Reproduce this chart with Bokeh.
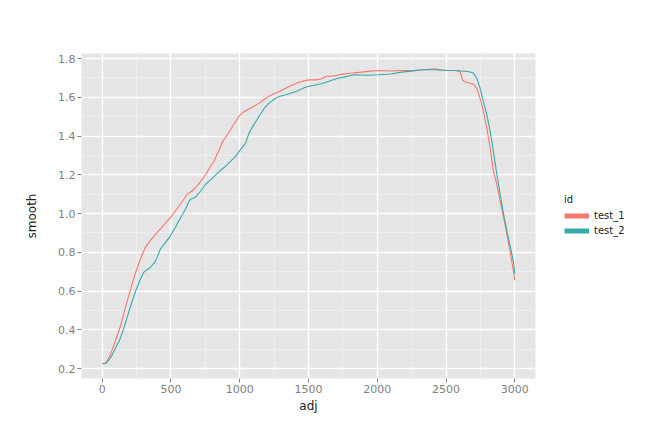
from bokeh.plotting import figure
from bokeh.models import (Range1d, SingleIntervalTicker, PrintfTickFormatter, Legend,
                          LegendItem, ColumnDataSource)
from bokeh.embed import file_html
from bokeh.resources import INLINE

adj_1 = [0, 25, 50, 71, 100, 131, 165, 204, 240, 265, 290, 314, 350, 399, 450, 496, 530, 557,
         590, 618, 650, 679, 710, 752, 780, 813, 845, 878, 898, 940, 970, 995, 1020, 1056,
         1100, 1141, 1180, 1214, 1250, 1287, 1320, 1360, 1400, 1433, 1470, 1506, 1555, 1591,
         1628, 1701, 1757, 1820, 1883, 1950, 2009, 2100, 2175, 2260, 2340, 2418, 2467, 2520,
         2564, 2601, 2610, 2618, 2635, 2650, 2675, 2698, 2723, 2747, 2771, 2796, 2820, 2844,
         2869, 2893, 2918, 2942, 2966, 2990, 3000]
smooth_1 = [0.225, 0.228, 0.255, 0.294, 0.350, 0.413, 0.505, 0.602, 0.690, 0.739, 0.785, 0.825,
            0.860, 0.902, 0.942, 0.979, 1.010, 1.039, 1.070, 1.099, 1.115, 1.133, 1.160, 1.200,
            1.235, 1.270, 1.320, 1.373, 1.394, 1.440, 1.475, 1.502, 1.520, 1.536, 1.553, 1.570,
            1.590, 1.605, 1.618, 1.630, 1.642, 1.656, 1.668, 1.678, 1.685, 1.690, 1.690, 1.694,
            1.707, 1.712, 1.721, 1.725, 1.730, 1.735, 1.738, 1.736, 1.738, 1.738, 1.742, 1.747,
            1.740, 1.738, 1.738, 1.733, 1.715, 1.690, 1.680, 1.678, 1.672, 1.668, 1.647, 1.596,
            1.528, 1.442, 1.339, 1.219, 1.151, 1.065, 0.979, 0.894, 0.800, 0.700, 0.655]

adj_2 = [0, 25, 50, 71, 100, 131, 156, 180, 204, 230, 253, 280, 302, 320, 338, 360, 387, 400,
         423, 460, 496, 530, 557, 580, 606, 625, 642, 660, 679, 710, 752, 790, 825, 860, 898,
         935, 971, 1000, 1044, 1068, 1100, 1141, 1180, 1214, 1263, 1300, 1336, 1409, 1440,
         1482, 1555, 1591, 1628, 1701, 1757, 1834, 1920, 2009, 2100, 2175, 2250, 2321, 2418,
         2500, 2564, 2662, 2698, 2723, 2747, 2771, 2796, 2820, 2844, 2869, 2893, 2918, 2942,
         2966, 2990, 3000]
smooth_2 = [0.225, 0.226, 0.245, 0.268, 0.310, 0.354, 0.405, 0.460, 0.516, 0.572, 0.619, 0.665,
            0.696, 0.707, 0.714, 0.730, 0.753, 0.775, 0.816, 0.850, 0.885, 0.925, 0.962, 0.990,
            1.022, 1.055, 1.074, 1.078, 1.085, 1.110, 1.151, 1.175, 1.200, 1.222, 1.245, 1.270,
            1.296, 1.325, 1.365, 1.416, 1.455, 1.502, 1.545, 1.570, 1.596, 1.607, 1.613, 1.630,
            1.640, 1.653, 1.665, 1.670, 1.678, 1.696, 1.704, 1.716, 1.714, 1.716, 1.720, 1.730,
            1.735, 1.742, 1.742, 1.738, 1.738, 1.733, 1.725, 1.699, 1.647, 1.579, 1.510, 1.425,
            1.322, 1.202, 1.099, 0.996, 0.911, 0.833, 0.748, 0.688]

ids = ["test_1", "test_2"]
colors = ["#F8766D", "#35ABAB"]

FONT = "DejaVu Sans"

p = figure(frame_width=454, frame_height=325,
           min_border_left=81, min_border_top=53, min_border_right=105, min_border_bottom=46,
           x_range=Range1d(-150, 3150), y_range=Range1d(0.1486, 1.826),
           output_backend="svg", toolbar_location=None)

p.background_fill_color = "#E5E5E5"
p.border_fill_color = "white"
p.outline_line_color = None

for ax in (p.xaxis[0], p.yaxis[0]):
    ax.axis_line_color = None
    ax.major_tick_line_color = "#7F7F7F"
    ax.major_tick_in = 0
    ax.major_tick_out = 4
    ax.minor_tick_line_color = None
    ax.major_label_text_font = FONT
    ax.major_label_text_font_size = "11px"
    ax.major_label_text_color = "#7F7F7F"
    ax.axis_label_text_font = FONT
    ax.axis_label_text_font_size = "12px"
    ax.axis_label_text_font_style = "normal"
    ax.axis_label_text_color = "#222222"
    ax.major_label_standoff = 2

p.xaxis.ticker = SingleIntervalTicker(interval=500, num_minor_ticks=2)
p.yaxis.ticker = SingleIntervalTicker(interval=0.2, num_minor_ticks=2)
p.yaxis.formatter = PrintfTickFormatter(format="%.1f")
p.xaxis.axis_label = "adj"
p.yaxis.axis_label = "smooth"
p.xaxis.axis_label_standoff = 3
p.yaxis.axis_label_standoff = 16

for g in (p.xgrid[0], p.ygrid[0]):
    g.grid_line_color = "white"
    g.grid_line_width = 1.4
    g.minor_grid_line_color = "#F0F0F0"
    g.minor_grid_line_width = 0.8

nan = float("nan")
xs = [adj_1, adj_2]
ys = [smooth_1, smooth_2]
items = []
for i in range(2):
    src = ColumnDataSource(dict(x=xs[i], y=ys[i]))
    p.line("x", "y", source=src, line_color=colors[i], line_width=1.1)
    dummy = p.line(x=[nan, nan], y=[nan, nan], line_color=colors[i], line_width=5)
    items.append(LegendItem(label=ids[i], renderers=[dummy]))

legend = Legend(items=items, location="center_left", title="id",
                title_text_font=FONT, title_text_font_size="10px", title_text_font_style="normal",
                title_text_color="#222222", title_standoff=3,
                label_text_font=FONT, label_text_font_size="10px", label_text_color="#222222",
                glyph_width=25, glyph_height=15, label_height=15, spacing=0,
                label_standoff=5, padding=8, margin=29,
                background_fill_alpha=0, border_line_color=None)
p.add_layout(legend, "right")

open("out.html", "w").write(file_html(p, INLINE))
